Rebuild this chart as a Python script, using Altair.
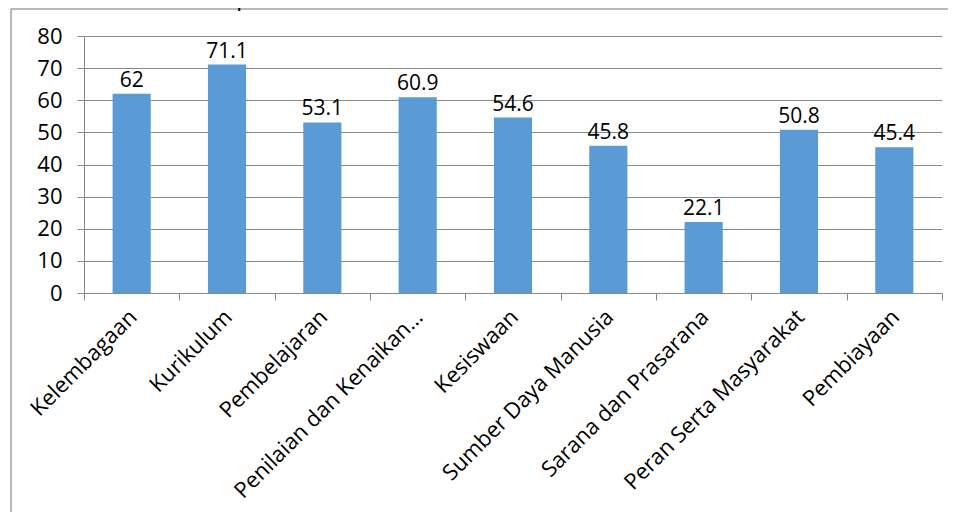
import altair as alt
import pandas as pd

categories = [
    "Kelembagaan",
    "Kurikulum",
    "Pembelajaran",
    "Penilaian dan Kenaikan…",
    "Kesiswaan",
    "Sumber Daya Manusia",
    "Sarana dan Prasarana",
    "Peran Serta Masyarakat",
    "Pembiayaan",
]
values = [62, 71.1, 53.1, 60.9, 54.6, 45.8, 22.1, 50.8, 45.4]
y_ticks = [0, 10, 20, 30, 40, 50, 60, 70, 80]
title_text = "pendidikan di 13 Kab/Kota di Indonesia Tahun 2017"

df = pd.DataFrame({"cat": categories, "val": values})
df["label"] = [f"{v:g}" for v in values]

GRAY = "#898989"
FONT = "Open Sans"

x_enc = alt.X(
    "cat:N",
    sort=categories,
    scale=alt.Scale(paddingInner=0, paddingOuter=0),
    axis=alt.Axis(
        title=None,
        labelAngle=-45,
        labelAlign="right",
        labelBaseline="top",
        labelFont=FONT,
        labelFontSize=22,
        labelColor="black",
        labelPadding=6,
        labelOffset=-6,
        labelLimit=400,
        tickBand="extent",
        tickSize=7,
        tickColor=GRAY,
        domainColor=GRAY,
        grid=False,
    ),
)
y_enc = alt.Y(
    "val:Q",
    scale=alt.Scale(domain=[0, 80]),
    axis=alt.Axis(
        values=y_ticks,
        title=None,
        grid=True,
        gridColor=GRAY,
        tickColor=GRAY,
        tickSize=7,
        domainColor=GRAY,
        labelFont=FONT,
        labelFontSize=22,
        labelColor="black",
        labelPadding=15,
    ),
)

base = alt.Chart(df).encode(x=x_enc, y=y_enc)
bars = base.mark_bar(color="#5B9BD5", width=alt.RelativeBandSize(0.4))
labels = base.mark_text(
    baseline="bottom", dy=-3, font=FONT, fontSize=21, color="black"
).encode(text="label:N")

one = pd.DataFrame({"t": [title_text]})
frame_top = alt.Chart(one).mark_rule(color="#a0a0a0", strokeWidth=1.5).encode(
    x=alt.value(-73), x2=alt.value(900), y=alt.value(-27)
)
frame_left = alt.Chart(one).mark_rule(color="#a0a0a0", strokeWidth=1.5).encode(
    x=alt.value(-73), y=alt.value(-27), y2=alt.value(500)
)
title = alt.Chart(one).mark_text(
    font="Liberation Sans", fontSize=22, color="black", baseline="alphabetic", align="center"
).encode(text="t:N", x=alt.value(404), y=alt.value(-30))

chart = (
    alt.layer(frame_top, frame_left, title, bars, labels)
    .properties(
        width=858,
        height=257,
        autosize=alt.AutoSizeParams(type="none"),
        padding={"left": 76, "top": 28, "right": 6, "bottom": 219},
        background="white",
    )
    .configure_view(strokeWidth=0)
)

chart.save("out.html", embed_options={"renderer": "svg", "actions": False})
